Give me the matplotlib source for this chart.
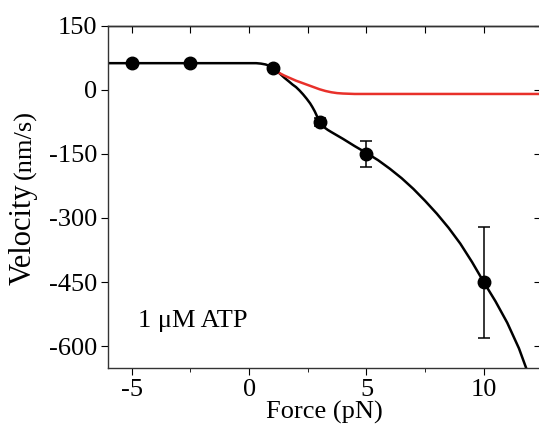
import matplotlib
matplotlib.use("Agg")
import matplotlib.pyplot as plt
from matplotlib.ticker import MultipleLocator

plt.rcParams['font.family'] = ['Liberation Serif', 'DejaVu Serif']
plt.rcParams['axes.unicode_minus'] = False

# measured points
force = [-5, -2.5, 1, 3, 5, 10]
velocity = [62, 62, 51, -76, -150, -450]
vel_err = [0, 0, 0, 10, 30, 130]

# black fit curve
fit_force = [-6, -5, -2.5, -1, 0, 0.3, 0.5, 0.7, 0.85, 1, 1.15, 1.3, 1.5, 1.7,
             1.85, 2.0, 2.15, 2.3, 2.45, 2.6, 2.7, 2.8, 2.9, 3.0, 3.1, 3.2,
             3.35, 3.5, 3.75, 4, 4.5, 5, 5.5, 6, 6.5, 7, 7.5, 8, 8.5, 9, 9.5,
             10, 10.5, 11, 11.5, 11.8]
fit_vel = [62, 62, 62, 62, 62, 62, 61, 59, 56, 51, 45, 38, 28, 19,
           12, 6, -2, -11, -21, -32, -41, -51, -63, -74, -82, -88,
           -94, -99, -107, -115, -132, -148, -165, -185, -207, -232, -260,
           -290, -323, -360, -403, -450, -495, -545, -605, -650]

# red curve
red_force = [0.9, 1, 1.25, 1.5, 1.75, 2, 2.25, 2.5, 2.75, 3, 3.25, 3.5, 3.75,
             4, 4.5, 5, 8, 12.5]
red_vel = [53, 49, 40, 33, 27, 21, 16, 11, 6, 1, -3, -6, -8, -9, -10, -10,
           -10, -10]

fig = plt.figure(figsize=(5.39, 4.33), dpi=100)
ax = fig.add_axes([0.201, 0.151, 0.801, 0.790])

ax.plot(fit_force, fit_vel, color='black', lw=1.8, zorder=2)
ax.plot(red_force, red_vel, color='#e8302a', lw=1.8, zorder=3)
ax.errorbar(force, velocity, yerr=vel_err, fmt='o', color='black', ms=9,
            capsize=4, elinewidth=1.1, capthick=1.1, zorder=4)

ax.set_xlim(-6, 12.4)
ax.set_ylim(-650, 150)
ax.xaxis.set_major_locator(MultipleLocator(5))
ax.xaxis.set_minor_locator(MultipleLocator(2.5))
ax.yaxis.set_major_locator(MultipleLocator(150))

for s in ax.spines.values():
    s.set_linewidth(1.0)
    s.set_color('#333333')

ax.tick_params(axis='x', which='both', direction='out', top=False, labelsize=19, pad=3)
ax.tick_params(axis='x', which='major', length=5)
ax.tick_params(axis='x', which='minor', length=3)
ax.tick_params(axis='y', which='major', direction='out', length=5, labelsize=19, pad=3)

# ticks pointing inside on top and right
sec_x = ax.secondary_xaxis('top')
sec_x.xaxis.set_major_locator(MultipleLocator(2.5))
sec_x.tick_params(direction='in', length=5, labeltop=False)
sec_x.spines['top'].set_linewidth(1.0)
sec_y = ax.secondary_yaxis('right')
sec_y.yaxis.set_major_locator(MultipleLocator(150))
sec_y.tick_params(direction='in', length=4, labelright=False)

ax.set_xlabel('Force (pN)', fontsize=19, labelpad=0)
vel_txt = fig.text(0.042, 0.342, 'Velocity', fontsize=22, rotation=90,
                   ha='center', va='bottom')
fig.canvas.draw()
ax.annotate('(nm/s)', xy=(0.6, 1.0), xycoords=vel_txt, xytext=(0, 3),
            textcoords='offset points', fontsize=19, rotation=90,
            ha='center', va='bottom', annotation_clip=False)
ax.text(-4.75, -540, '1 μM ATP', fontsize=19, va='center', ha='left')

fig.savefig('out.png', dpi=100)
